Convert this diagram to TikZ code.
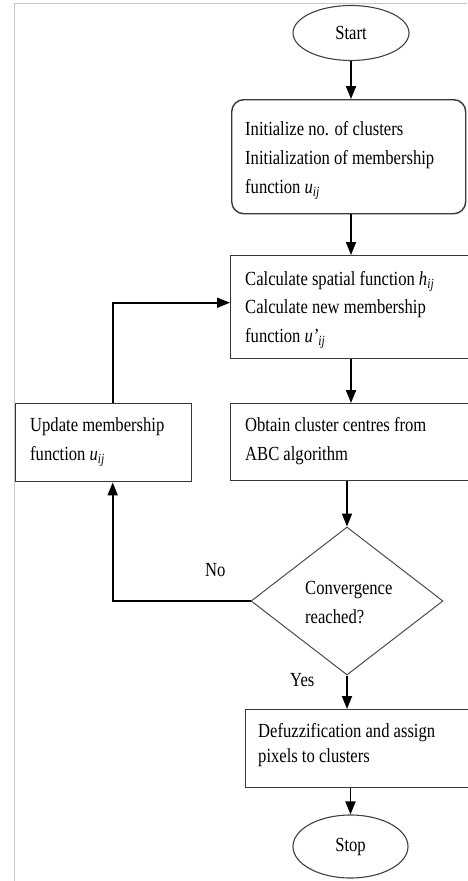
\documentclass[tikz,border=0pt]{standalone}
\usepackage{fontspec}
\setmainfont[FakeStretch=0.83]{Liberation Serif}
\usetikzlibrary{arrows.meta,shapes.geometric}
\begin{document}
\begin{tikzpicture}[x=1pt,y=-1pt,
  every node/.style={font=\fontsize{20}{29}\selectfont},
  box/.style={draw=black!78, line width=1.4pt, rectangle, anchor=north west, inner sep=0pt},
  term/.style={draw=black!75, line width=1.1pt, ellipse, inner sep=0pt},
  decis/.style={draw=black!70, line width=1pt, diamond, inner sep=0pt},
  txt/.style={anchor=north west, inner sep=0pt, align=left},
  conn/.style={draw=black, line width=1.8pt, -{Triangle[length=13pt,width=10pt]}},
  frame/.style={draw=black!22, line width=1pt}
]
\useasboundingbox (0,0) rectangle (467,881);
\draw[frame] (14,881) -- (14,3) -- (467,3);

% shapes
\node[term, minimum width=116pt, minimum height=55pt] (start) at (351,33) {Start};
\node[box, rounded corners=12pt, minimum width=234pt, minimum height=114pt] (init) at (231,99) {};
\node[box, minimum width=250pt, minimum height=103pt] (calc) at (230,255) {};
\node[box, minimum width=176pt, minimum height=78pt] (upd) at (15,403) {};
\node[box, minimum width=250pt, minimum height=77pt] (obt) at (230,403) {};
\node[decis, minimum width=192pt, minimum height=148pt] (dec) at (347,601) {};
\node[box, minimum width=240pt, minimum height=78pt] (def) at (245,709) {};
\node[term, minimum width=115pt, minimum height=63pt] (stop) at (350.5,846.5) {Stop};

% texts
\node[txt] (initt) at (245,121.2) {Initialize no. of clusters\\Initialization of membership\\function \textit{u}\textsubscript{\textit{ij}}};
\node[txt, font=\fontsize{20}{28.5}\selectfont] (calct) at (245,271.2) {Calculate spatial function \textit{h}\textsubscript{\textit{ij}}\\Calculate new membership\\function \textit{u\textquoteright}\textsubscript{\textit{ij}}};
\node[txt] (updt) at (30,417.2) {Update membership\\function \textit{u}\textsubscript{\textit{ij}}};
\node[txt] (obtt) at (245,417.2) {Obtain cluster centres from\\ABC algorithm};
\node[txt] (dect) at (305,580.6) {Convergence\\reached?};
\node[txt, font=\fontsize{20}{25}\selectfont] (deft) at (258,723.2) {Defuzzification and assign\\pixels to clusters};
\node[txt] (no) at (205,563.6) {No};
\node[txt] (yes) at (290,672.9) {Yes};

% connectors
\draw[conn] (start.south) -- (start.south |- init.north);
\draw[conn] (init.south -| start.south) -- (calc.north -| start.south);
\draw[conn] (calc.south -| start.south) -- (obt.north -| start.south);
\draw[conn] (obt.south -| dec.north) -- (dec.north);
\draw[conn] (dec.south) -- (def.north -| dec.south);
\draw[conn] (def.south -| stop.north) -- (stop.north);
\draw[conn] (dec.west) -| ([xshift=9pt]upd.south);
\draw[conn] ([xshift=9pt]upd.north) |- ([yshift=4.5pt]calc.west);
\end{tikzpicture}
\end{document}
